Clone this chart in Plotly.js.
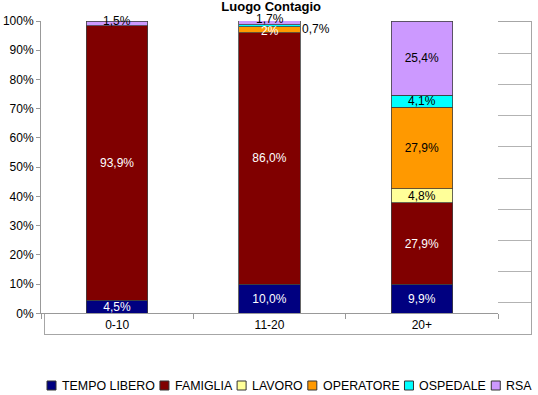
<!DOCTYPE html>
<html>
<head>
<meta charset="utf-8">
<script src="https://cdn.plot.ly/plotly-3.0.1.min.js"></script>
<style>
html,body{margin:0;padding:0;background:#fff;}
#chart{width:538px;height:395px;}
</style>
</head>
<body>
<div id="chart"></div>
<script>
// ---- data ----
const categories = ['0-10', '11-20', '20+'];
const seriesNames = ['TEMPO LIBERO', 'FAMIGLIA', 'LAVORO', 'OPERATORE', 'OSPEDALE', 'RSA'];
const tempoLibero = [4.5, 10.0, 9.9];
const famiglia    = [93.9, 86.0, 27.9];
const lavoro      = [0, 0, 4.8];
const operatore   = [0, 2, 27.9];
const ospedale    = [0, 0.7, 4.1];
const rsa         = [1.5, 1.7, 25.4];
const yTickValues = [0, 10, 20, 30, 40, 50, 60, 70, 80, 90, 100];
// labels of thin segments, drawn nudged off their centre as in the original
const offLabels = [
  {series: 'OSPEDALE', index: 1, dx: 46, dy: -3, short: false, color: '#000000'},
  {series: 'OPERATORE', index: 1, dx: 0, dy: -1.5, short: true, color: '#ffffff'},
  {series: 'RSA', index: 0, dx: 0, dy: 2.5, short: false, color: '#000000'},
  {series: 'RSA', index: 1, dx: 0, dy: 3.5, short: false, color: '#000000'}
];

// ---- styles ----
const FONT = 'Liberation Sans, Arial, sans-serif';
const colors = ['#000080', '#800000', '#FFFF99', '#FF9900', '#00FFFF', '#CC99FF'];
const labelColors = ['#ffffff', '#ffffff', '#000000', '#000000', '#000000', '#000000'];
const seriesValues = [tempoLibero, famiglia, lavoro, operatore, ospedale, rsa];

function fmt(v) { return v.toFixed(1).replace('.', ',') + '%'; }
function fmtShort(v) { return Math.round(v) + '%'; }
const isOff = (name, i) => offLabels.some(o => o.series === name && o.index === i);

const traces = seriesNames.map((name, s) => {
  const vals = seriesValues[s];
  const text = vals.map((v, i) => (v === 0 || isOff(name, i)) ? '' : fmt(v));
  return {
    type: 'bar', name: name, x: categories, y: vals,
    xaxis: 'x2', yaxis: 'y2',
    marker: {color: colors[s], line: {color: '#404040', width: 0.8}},
    text: text, textposition: 'inside', textangle: 0, constraintext: 'none',
    insidetextanchor: 'middle',
    textfont: {family: FONT, size: 12, color: labelColors[s]},
    hoverinfo: 'x+y+name', showlegend: false
  };
});

// back-wall subplot placeholder
traces.unshift({type: 'scatter', x: [null], y: [null], mode: 'none',
  xaxis: 'x', yaxis: 'y', showlegend: false, hoverinfo: 'skip'});

// layout geometry
const W = 538, H = 395;
const M = {l: 41, r: 7, t: 21, b: 61};
const PW = W - M.l - M.r, PH = H - M.t - M.b;
const px = p => (p - M.l) / PW;
const py = p => (H - M.b - p) / PH;

// labels for thin segments (placed at segment centre in data units, nudged)
const annotations = offLabels.map(o => {
  const sIdx = seriesNames.indexOf(o.series);
  let cum = 0;
  for (let s = 0; s < sIdx; s++) cum += seriesValues[s][o.index];
  const v = seriesValues[sIdx][o.index];
  cum += v / 2;
  return {
    xref: 'x2', yref: 'y2', x: categories[o.index], y: cum,
    text: o.short ? fmtShort(v) : fmt(v), showarrow: false, borderpad: 0,
    xshift: o.dx, yshift: o.dy, font: {family: FONT, size: 12, color: o.color}
  };
});

// legend (custom, single row, laid out from measured text widths)
const LEG_SIZE = 12.4;
const ctx = document.createElement('canvas').getContext('2d');
ctx.font = LEG_SIZE + 'px "Liberation Sans", Arial, sans-serif';
const shapes = [];
let lx = 47;
seriesNames.forEach((name, s) => {
  shapes.push({type: 'rect', xref: 'paper', yref: 'paper',
    x0: px(lx), x1: px(lx + 9), y0: py(390), y1: py(381),
    fillcolor: colors[s], line: {color: '#333333', width: 1}});
  annotations.push({xref: 'paper', yref: 'paper', x: px(lx + 14), y: py(385.5),
    xanchor: 'left', yanchor: 'middle', showarrow: false, text: name, borderpad: 0,
    font: {family: FONT, size: LEG_SIZE, color: '#000'}});
  lx += 14 + ctx.measureText(name).width + 6;
});

const grey = '#a6a6a6';
const layout = {
  width: W, height: H,
  margin: M,
  paper_bgcolor: '#ffffff', plot_bgcolor: '#ffffff',
  font: {family: FONT, size: 12, color: '#000'},
  title: {text: 'Luogo Contagio', x: 0.504, xref: 'container', xanchor: 'center',
          y: 0.983, yref: 'container', yanchor: 'middle',
          font: {family: FONT, size: 13, color: '#000', weight: 'bold'}},
  showlegend: false,
  barmode: 'stack', bargap: 0.596,
  xaxis: {domain: [px(45.3), 1], range: [0, 1], anchor: 'y',
          showgrid: false, showticklabels: false, ticks: '', zeroline: false,
          showline: true, mirror: true, linecolor: grey, linewidth: 1, fixedrange: true},
  yaxis: {domain: [0, py(22.3)], range: [0, 100], anchor: 'x', tickvals: yTickValues,
          showgrid: true, gridcolor: '#b3b3b3', gridwidth: 1, showticklabels: false, ticks: '',
          zeroline: false, showline: true, mirror: true, linecolor: grey, linewidth: 1, fixedrange: true},
  xaxis2: {domain: [0, px(498)], anchor: 'y2', type: 'category', categoryarray: categories,
           tickson: 'boundaries', ticks: 'outside', ticklen: 5, tickcolor: '#999999', tickwidth: 1,
           showline: true, linecolor: '#999999', linewidth: 1, showgrid: false, zeroline: false,
           tickfont: {family: FONT, size: 12, color: '#000'}, fixedrange: true},
  yaxis2: {domain: [py(313.3), 1], anchor: 'x2', range: [0, 100], tickvals: yTickValues,
           ticktext: yTickValues.map(v => v + '%'), ticks: 'outside', ticklen: 4,
           tickcolor: '#999999', tickwidth: 1, showline: true, linecolor: '#999999', linewidth: 1,
           showgrid: false, zeroline: false,
           tickfont: {family: FONT, size: 12, color: '#000'}, fixedrange: true},
  annotations: annotations,
  shapes: shapes
};

Plotly.newPlot('chart', traces, layout, {displayModeBar: false, staticPlot: true});
</script>
</body>
</html>
